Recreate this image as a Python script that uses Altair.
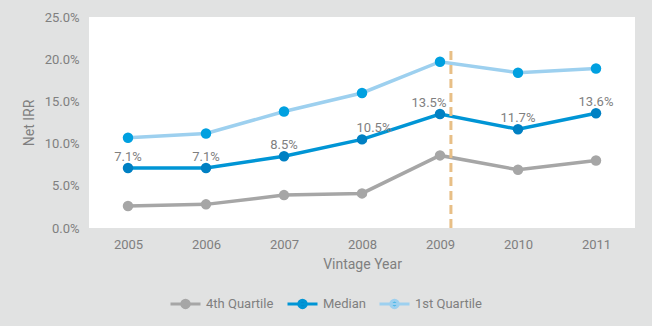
import altair as alt
import pandas as pd

years = [2005, 2006, 2007, 2008, 2009, 2010, 2011]
q4 = [2.6, 2.8, 3.9, 4.1, 8.6, 6.9, 8.0]
median = [7.1, 7.1, 8.5, 10.5, 13.5, 11.7, 13.6]
q1 = [10.7, 11.2, 13.8, 16.0, 19.7, 18.4, 18.9]
series_names = ["4th Quartile", "Median", "1st Quartile"]
line_colors = ["#a6a6a6", "#0095d5", "#9dd0ef"]
point_colors = ["#a6a6a6", "#0080c3", "#00a0e0"]
divider_year = [2009.14]
divider_top = [21.0]

rows = []
for name, vals in zip(series_names, [q4, median, q1]):
    for y, v in zip(years, vals):
        rows.append({"year": y, "value": v, "series": name,
                     "label": f"{v:.1f}%"})
df = pd.DataFrame(rows)
div_df = pd.DataFrame({"year": divider_year, "top": divider_top, "bottom": [0.0]})

FONT = "Roboto"
GRAY = "#7f7f7f"

x = alt.X("year:Q", scale=alt.Scale(domain=[2004.5, 2011.5], nice=False, zero=False),
          axis=alt.Axis(title="Vintage Year", values=years, format="d",
                        grid=False, domain=False, ticks=False, labelPadding=10,
                        labelFontSize=13, titleFontSize=14, titleFontWeight="normal",
                        labelColor=GRAY, titleColor=GRAY, titlePadding=6,
                        labelFont=FONT, titleFont=FONT))
y = alt.Y("value:Q", scale=alt.Scale(domain=[0, 25], nice=False),
          axis=alt.Axis(title="Net IRR", values=[0, 5, 10, 15, 20, 25],
                        labelExpr="format(datum.value, '.1f') + '%'",
                        grid=False, domain=False, ticks=False, labelPadding=10,
                        labelFontSize=13, titleFontSize=14, titleFontWeight="normal",
                        labelColor=GRAY, titleColor=GRAY, titlePadding=8,
                        labelFont=FONT, titleFont=FONT))

legend_path = "M-1,0H1M0.25,0A0.25,0.25,0,1,1,-0.25,0A0.25,0.25,0,1,1,0.25,0"
legend_common = dict(title=None, orient="none", direction="horizontal",
                     legendX=80, legendY=270,
                     symbolType=legend_path, symbolSize=900,
                     symbolStrokeWidth=3,
                     labelFont=FONT, labelFontSize=13, labelColor=GRAY,
                     columnPadding=7, labelOffset=4)

lines = alt.Chart(df).mark_line(strokeWidth=3.5).encode(
    x=x, y=y,
    color=alt.Color("series:N", sort=series_names,
                    scale=alt.Scale(domain=series_names, range=line_colors),
                    legend=alt.Legend(**legend_common)),
)

points = alt.Chart(df).mark_point(filled=True, size=110, opacity=1).encode(
    x=x, y=y,
    fill=alt.Fill("series:N", sort=series_names,
                  scale=alt.Scale(domain=series_names, range=point_colors),
                  legend=alt.Legend(**legend_common)),
)

divider = alt.Chart(div_df).mark_rule(color="#e8bf86", strokeWidth=3,
                                      strokeDash=[9, 5]).encode(
    x="year:Q", y="bottom:Q", y2="top:Q")

med = alt.Chart(df).transform_filter(alt.datum.series == "Median")
text_style = dict(dy=-11, fontSize=13, color=GRAY, font=FONT)
labels_mid = med.transform_filter(
    (alt.datum.year != 2008) & (alt.datum.year != 2009)).mark_text(**text_style).encode(
    x=x, y=y, text="label:N")
labels_2008 = med.transform_filter(alt.datum.year == 2008).mark_text(
    dx=12, **text_style).encode(x=x, y=y, text="label:N")
labels_2009 = med.transform_filter(alt.datum.year == 2009).mark_text(
    dx=-11, **text_style).encode(x=x, y=y, text="label:N")

chart = alt.layer(lines, divider, points, labels_mid, labels_2008, labels_2009).properties(
    width=546, height=211,
    autosize=alt.AutoSizeParams(type="none"),
    padding={"left": 89, "top": 17, "right": 17, "bottom": 98},
    background="#e1e2e2",
).configure_view(fill="white", stroke=None)

chart.save("out.html", embed_options={"renderer": "svg", "actions": False})
